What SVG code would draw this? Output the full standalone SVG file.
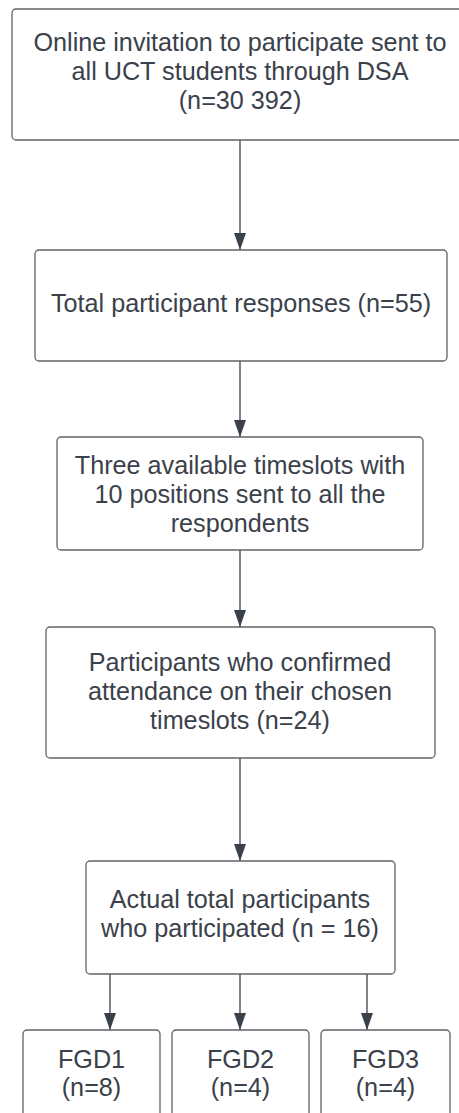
<svg xmlns="http://www.w3.org/2000/svg" width="459" height="1113" viewBox="0 0 459 1113">
<defs>
<style>
.box{fill:#ffffff;stroke:#5f6369;stroke-width:1.3}
.t{font-family:"Liberation Sans",Arial,sans-serif;font-size:25.2px;fill:#3a414a;text-anchor:middle}
.c{stroke:#3a414a;stroke-width:1.3;fill:none}
</style>
<marker id="a" markerUnits="userSpaceOnUse" markerWidth="17" markerHeight="13" refX="17" refY="6.5" orient="auto" viewBox="0 0 17 13">
<path d="M0,0.5 L17,6.5 L0,12.5 Z" fill="#3a414a"/>
</marker>
</defs>
<rect width="459" height="1113" fill="#ffffff"/>
<g id="connectors">
<line class="c" x1="240" y1="140" x2="240" y2="250" marker-end="url(#a)"/>
<line class="c" x1="240" y1="361" x2="240" y2="437" marker-end="url(#a)"/>
<line class="c" x1="240" y1="550" x2="240" y2="627" marker-end="url(#a)"/>
<line class="c" x1="240" y1="758" x2="240" y2="861" marker-end="url(#a)"/>
<line class="c" x1="110" y1="974" x2="110" y2="1030" marker-end="url(#a)"/>
<line class="c" x1="240" y1="974" x2="240" y2="1030" marker-end="url(#a)"/>
<line class="c" x1="367" y1="974" x2="367" y2="1030" marker-end="url(#a)"/>
</g>
<g id="n1">
<rect class="box" x="12" y="9" width="456" height="131" rx="4"/>
<text class="t" x="240" y="51">Online invitation to participate sent to</text>
<text class="t" x="240" y="80">all UCT students through DSA</text>
<text class="t" x="240" y="109">(n=30 392)</text>
</g>
<g id="n2">
<rect class="box" x="35" y="250" width="412" height="111" rx="4"/>
<text class="t" x="241" y="312">Total participant responses (n=55)</text>
</g>
<g id="n3">
<rect class="box" x="57" y="437" width="366" height="113" rx="4"/>
<text class="t" x="240" y="474">Three available timeslots with</text>
<text class="t" x="240" y="503">10 positions sent to all the</text>
<text class="t" x="240" y="532">respondents</text>
</g>
<g id="n4">
<rect class="box" x="46" y="627" width="389" height="131" rx="4"/>
<text class="t" x="240" y="671">Participants who confirmed</text>
<text class="t" x="240" y="700">attendance on their chosen</text>
<text class="t" x="240" y="729">timeslots (n=24)</text>
</g>
<g id="n5">
<rect class="box" x="86" y="861" width="309" height="113" rx="4"/>
<text class="t" x="240" y="908">Actual total participants</text>
<text class="t" x="240" y="937">who participated (n = 16)</text>
</g>
<g id="fgd1">
<rect class="box" x="23" y="1030" width="137" height="100" rx="4"/>
<text class="t" x="91.5" y="1068">FGD1</text>
<text class="t" x="91.5" y="1096">(n=8)</text>
</g>
<g id="fgd2">
<rect class="box" x="172" y="1030" width="137" height="100" rx="4"/>
<text class="t" x="240.5" y="1068">FGD2</text>
<text class="t" x="240.5" y="1096">(n=4)</text>
</g>
<g id="fgd3">
<rect class="box" x="321" y="1030" width="129" height="100" rx="4"/>
<text class="t" x="385.5" y="1068">FGD3</text>
<text class="t" x="385.5" y="1096">(n=4)</text>
</g>
</svg>
